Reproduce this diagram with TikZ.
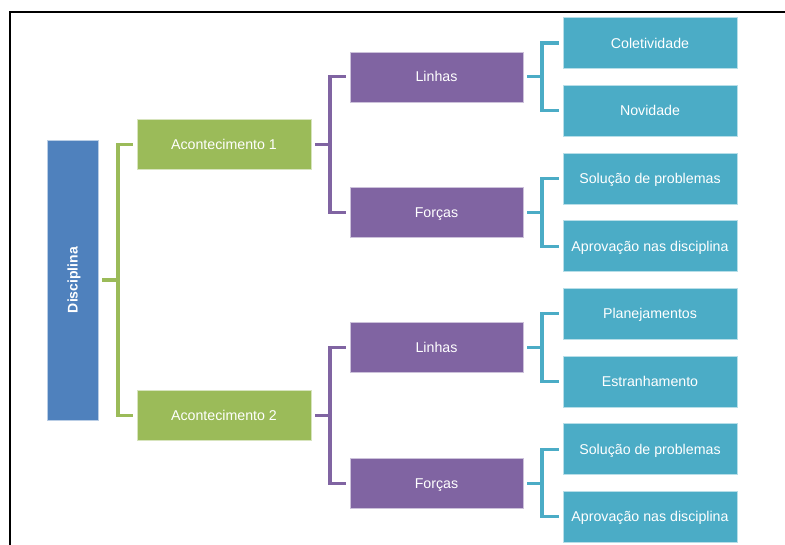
\documentclass[tikz,border=0pt]{standalone}
\usepackage{fontspec}
\setmainfont{Liberation Sans}
\definecolor{cblue}{HTML}{4F81BD}
\definecolor{cgreen}{HTML}{9BBB59}
\definecolor{cpurple}{HTML}{8064A2}
\definecolor{ccyan}{HTML}{4BACC6}
\tikzset{
  box/.style={rectangle, inner sep=0pt, text=white, font=\fontsize{14.2}{16}\selectfont, text height=10pt, text depth=0pt, line width=0.6pt},
  disbox/.style={box, fill=cblue, draw=cblue!40!white, minimum width=51pt, minimum height=280pt},
  gbox/.style={box, fill=cgreen, draw=cgreen!40!white, minimum width=174pt, minimum height=50pt},
  pbox/.style={box, fill=cpurple, draw=cpurple!40!white, minimum width=173pt, minimum height=50pt},
  cbox/.style={box, fill=ccyan, draw=ccyan!40!white, minimum width=174pt, minimum height=51pt},
  conn/.style={line width=3.1pt, line join=miter, line cap=butt},
  gline/.style={conn, draw=cgreen},
  pline/.style={conn, draw=cpurple},
  cline/.style={conn, draw=ccyan},
}
\begin{document}
\begin{tikzpicture}[x=1pt, y=-1pt]
\useasboundingbox (0,0) rectangle (785,544);
% frame
\draw[line width=2.6pt, line cap=rect] (785,12) -- (10,12) -- (10,546);
% root
\node[disbox] (dis) at (72.5,280) {};
\node[rotate=90, text=white, inner sep=0pt, text height=10pt, text depth=0pt, font=\bfseries\fontsize{14}{16}\selectfont] (distext) at (dis.center) {Disciplina};
% level 1
\node[gbox] (a1) at (224,144.6) {Acontecimento 1};
\node[gbox] (a2) at (224,415.4) {Acontecimento 2};
% level 2
\node[pbox] (l1) at (436.5,76.9) {Linhas};
\node[pbox] (f1) at (436.5,212.3) {Forças};
\node[pbox] (l2) at (436.5,347.7) {Linhas};
\node[pbox] (f2) at (436.5,483.1) {Forças};
% level 3
\node[cbox] (c1) at (650,43) {Coletividade};
\node[cbox] (c2) at (650,110.7) {Novidade};
\node[cbox] (c3) at (650,178.4) {Solução de problemas};
\node[cbox] (c4) at (650,246.1) {Aprovação nas disciplina};
\node[cbox] (c5) at (650,313.8) {Planejamentos};
\node[cbox] (c6) at (650,381.5) {Estranhamento};
\node[cbox] (c7) at (650,449.2) {Solução de problemas};
\node[cbox] (c8) at (650,516.9) {Aprovação nas disciplina};
% buses
\coordinate (gb) at (118,280);
\coordinate (pb1) at (330,144.6);
\coordinate (pb2) at (330,415.4);
\coordinate (cb1) at (542,76.9);
\coordinate (cb2) at (542,212.3);
\coordinate (cb3) at (542,347.7);
\coordinate (cb4) at (542,483.1);
% green connectors
\draw[gline] ([xshift=4pt]dis.east) -- (gb);
\draw[gline] ([xshift=-4pt]a1.west) -| (gb);
\draw[gline] ([xshift=-4pt]a2.west) -| (gb);
% purple connectors
\draw[pline] ([xshift=4pt]a1.east) -- (pb1);
\draw[pline] ([xshift=-4pt]l1.west) -| (pb1);
\draw[pline] ([xshift=-4pt]f1.west) -| (pb1);
\draw[pline] ([xshift=4pt]a2.east) -- (pb2);
\draw[pline] ([xshift=-4pt]l2.west) -| (pb2);
\draw[pline] ([xshift=-4pt]f2.west) -| (pb2);
% cyan connectors
\draw[cline] ([xshift=4pt]l1.east) -- (cb1);
\draw[cline] ([xshift=-4pt]c1.west) -| (cb1);
\draw[cline] ([xshift=-4pt]c2.west) -| (cb1);
\draw[cline] ([xshift=4pt]f1.east) -- (cb2);
\draw[cline] ([xshift=-4pt]c3.west) -| (cb2);
\draw[cline] ([xshift=-4pt]c4.west) -| (cb2);
\draw[cline] ([xshift=4pt]l2.east) -- (cb3);
\draw[cline] ([xshift=-4pt]c5.west) -| (cb3);
\draw[cline] ([xshift=-4pt]c6.west) -| (cb3);
\draw[cline] ([xshift=4pt]f2.east) -- (cb4);
\draw[cline] ([xshift=-4pt]c7.west) -| (cb4);
\draw[cline] ([xshift=-4pt]c8.west) -| (cb4);
\end{tikzpicture}
\end{document}
